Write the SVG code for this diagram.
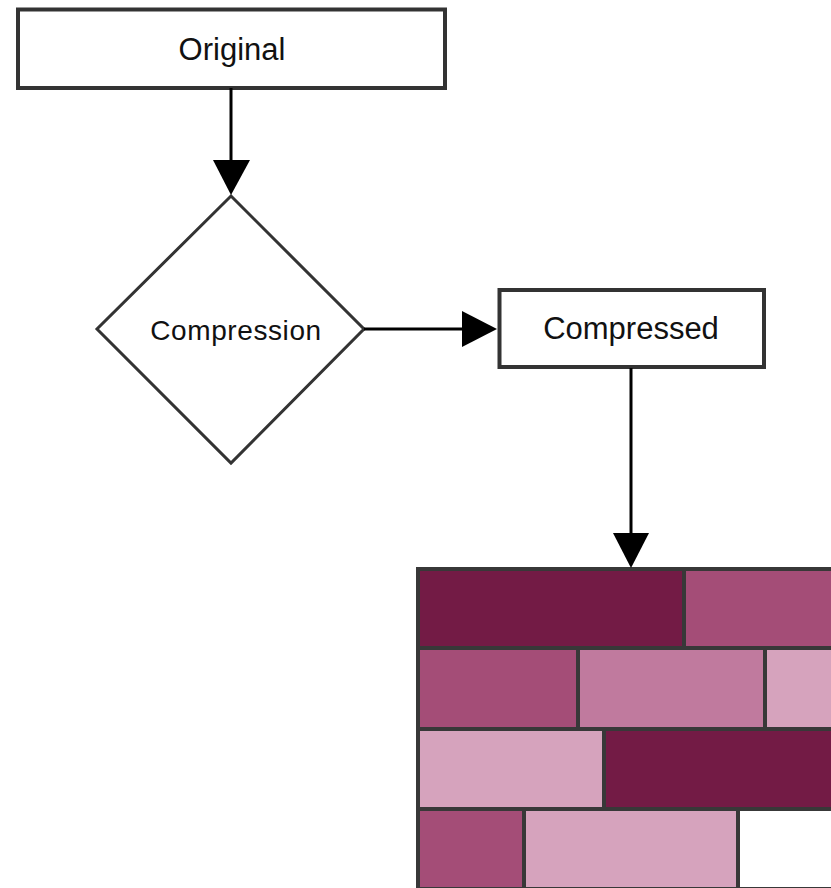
<svg xmlns="http://www.w3.org/2000/svg" width="831" height="888" viewBox="0 0 831 888">
<style>
.box{fill:#fff;stroke:#333;stroke-width:4}
.dia{fill:#fff;stroke:#333;stroke-width:3}
.lbl{font-family:"Liberation Sans",Arial,sans-serif;fill:#111;text-anchor:middle}
.conn{stroke:#000;stroke-width:3;fill:none}
.head{fill:#000}
.brick{stroke:#383838;stroke-width:4}
.c1{fill:#731b45}.c2{fill:#a44d77}.c3{fill:#c07a9e}.c4{fill:#d6a3bd}.c5{fill:#fff}
</style>
<rect width="831" height="888" fill="#fff"/>
<g id="original">
<rect class="box" x="18" y="9.5" width="427" height="78.5"/>
<text class="lbl" x="232" y="60" font-size="31">Original</text>
</g>
<g id="compression">
<polygon class="dia" points="231,196 364,329 231,463 97,329"/>
<text class="lbl" x="236" y="340" font-size="28" letter-spacing="0.6">Compression</text>
</g>
<g id="compressed">
<rect class="box" x="499.5" y="290" width="264.5" height="77"/>
<text class="lbl" x="631" y="339" font-size="31">Compressed</text>
</g>
<g id="wall">
<rect class="brick c1" x="418" y="569" width="266" height="79"/>
<rect class="brick c2" x="684" y="569" width="160" height="79"/>
<rect class="brick c2" x="418" y="648" width="160" height="81"/>
<rect class="brick c3" x="578" y="648" width="187" height="81"/>
<rect class="brick c4" x="765" y="648" width="80" height="81"/>
<rect class="brick c4" x="418" y="729" width="186" height="80"/>
<rect class="brick c1" x="604" y="729" width="240" height="80"/>
<rect class="brick c2" x="418" y="809" width="106" height="80"/>
<rect class="brick c4" x="524" y="809" width="214" height="80"/>
<rect class="brick c5" x="738" y="809" width="106" height="80"/>
</g>
<g id="connectors">
<line class="conn" x1="231" y1="88" x2="231" y2="164"/>
<polygon class="head" points="213,160 250,160 231,195"/>
<line class="conn" x1="364" y1="329" x2="464" y2="329"/>
<polygon class="head" points="462,311 462,347 497,329"/>
<line class="conn" x1="631" y1="368" x2="631" y2="537"/>
<polygon class="head" points="613,533 649,533 631,568"/>
</g>
</svg>
